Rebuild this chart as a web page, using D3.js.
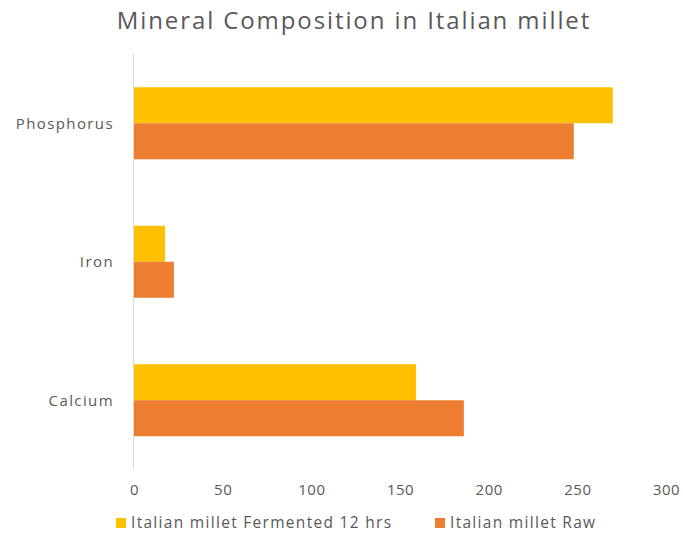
<!DOCTYPE html>
<html>
<head>
<meta charset="utf-8">
<script src="https://cdn.jsdelivr.net/npm/d3@7"></script>
<style>
  html, body { margin: 0; padding: 0; background: #fff; }
  svg { display: block; font-family: "Open Sans", "Noto Sans", sans-serif; }
</style>
</head>
<body>
<svg id="chart" width="683" height="535"></svg>
<script>
// Minerals (mg per 100 g) in Italian millet, fermented vs raw
const categories = ["Phosphorus", "Iron", "Calcium"];
const seriesNames = ["Italian millet Fermented 12 hrs", "Italian millet Raw"];
const fermented = [270, 17.5, 159];
const raw = [248, 22.5, 186];
const xTicks = [0, 50, 100, 150, 200, 250, 300];
const colors = ["#FFC000", "#ED7D31"];

const svg = d3.select("#chart");
const textColor = "#595959";

const x = d3.scaleLinear().domain([0, 300]).range([134, 666]);
const y = d3.scaleBand().domain(categories).range([54, 469.5])
  .paddingInner(0.48).paddingOuter(0.24);
const ySub = d3.scaleBand().domain(seriesNames).range([0, y.bandwidth()]);

// Title
svg.append("text")
  .attr("x", 354).attr("y", 29)
  .attr("text-anchor", "middle")
  .attr("font-size", 24)
  .attr("letter-spacing", 1.9)
  .attr("fill", textColor)
  .text("Mineral Composition in Italian millet");

// Bars
const seriesValues = [fermented, raw];
seriesNames.forEach((name, si) => {
  svg.append("g").selectAll("rect")
    .data(categories.map((c, i) => ({ c, v: seriesValues[si][i] })))
    .join("rect")
    .attr("x", x(0))
    .attr("y", d => y(d.c) + ySub(name))
    .attr("width", d => x(d.v) - x(0))
    .attr("height", ySub.bandwidth())
    .attr("fill", colors[si]);
});

// Category axis line
svg.append("line")
  .attr("x1", x(0) - 0.5).attr("x2", x(0) - 0.5)
  .attr("y1", 54).attr("y2", 469)
  .attr("stroke", "#d9d9d9").attr("stroke-width", 1);

// Category labels
svg.append("g").selectAll("text")
  .data(categories)
  .join("text")
  .attr("x", 114)
  .attr("y", d => y(d) + y.bandwidth() / 2)
  .attr("dy", "0.35em")
  .attr("text-anchor", "end")
  .attr("font-size", 15)
  .attr("letter-spacing", 1.4)
  .attr("fill", textColor)
  .text(d => d);

// Value axis
const xAxis = d3.axisBottom(x).tickValues(xTicks).tickSize(0).tickPadding(0);
const gx = svg.append("g").attr("transform", "translate(0,484)").call(xAxis);
gx.select(".domain").remove();
gx.selectAll("text")
  .attr("font-family", "\"Open Sans\", \"Noto Sans\", sans-serif")
  .attr("font-size", 15)
  .attr("letter-spacing", 0.5)
  .attr("fill", textColor)
  .attr("dy", "0.71em");

// Legend
const legendItems = [
  { name: seriesNames[0], color: colors[0], x: 116 },
  { name: seriesNames[1], color: colors[1], x: 435 }
];
const lg = svg.append("g");
legendItems.forEach(item => {
  lg.append("rect")
    .attr("x", item.x).attr("y", 518)
    .attr("width", 10).attr("height", 10)
    .attr("fill", item.color);
  lg.append("text")
    .attr("x", item.x + 15).attr("y", 523)
    .attr("dy", "0.35em")
    .attr("font-size", 15.5)
    .attr("letter-spacing", 1.3)
    .attr("fill", textColor)
    .text(item.name);
});
</script>
</body>
</html>
